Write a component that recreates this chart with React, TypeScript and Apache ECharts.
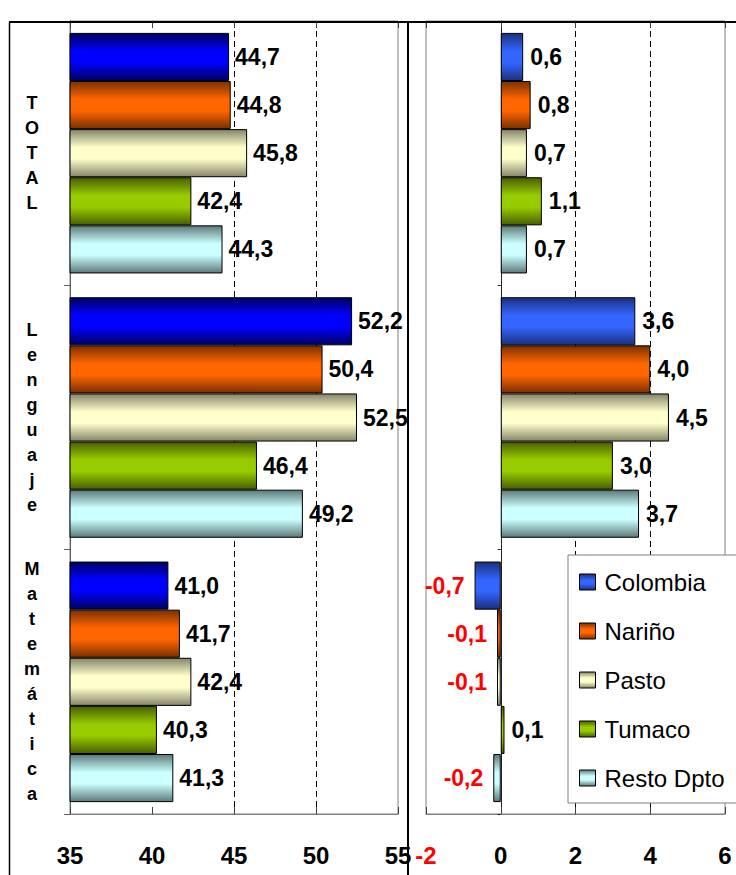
import React, { useEffect, useRef } from "react";
import * as echarts from "echarts";

const categories = ["TOTAL", "Lenguaje", "Matemática"];
const seriesNames = ["Colombia", "Nariño", "Pasto", "Tumaco", "Resto Dpto"];

// Left panel: scores
const scoreColombia = [44.7, 52.2, 41.0];
const scoreNarino = [44.8, 50.4, 41.7];
const scorePasto = [45.8, 52.5, 42.4];
const scoreTumaco = [42.4, 46.4, 40.3];
const scoreResto = [44.3, 49.2, 41.3];

// Right panel: differences
const diffColombia = [0.6, 3.6, -0.7];
const diffNarino = [0.8, 4.0, -0.1];
const diffPasto = [0.7, 4.5, -0.1];
const diffTumaco = [1.1, 3.0, 0.1];
const diffResto = [0.7, 3.7, -0.2];

const leftTicks = [35, 40, 45, 50, 55];
const rightTicks = [-2, 0, 2, 4, 6];

const leftColors = [
  ["#000060", "#0000ff"],
  ["#7a3000", "#ff6600"],
  ["#85856a", "#ffffcc"],
  ["#485f00", "#99cc00"],
  ["#5c7a7a", "#ccffff"],
];
const rightColors = [
  ["#1c2f80", "#3366ff"],
  ["#7a3000", "#ff6600"],
  ["#85856a", "#ffffcc"],
  ["#485f00", "#99cc00"],
  ["#5c7a7a", "#ccffff"],
];

const FONT = "'Liberation Sans', Arial, sans-serif";

function grad(c: string[]) {
  return new echarts.graphic.LinearGradient(0, 0, 0, 1, [
    { offset: 0, color: c[0] },
    { offset: 0.38, color: c[1] },
    { offset: 0.62, color: c[1] },
    { offset: 1, color: c[0] },
  ]);
}

const fmt = (v: number) => v.toFixed(1).replace(".", ",");

export default function App() {
  const ref = useRef<HTMLDivElement>(null);
  useEffect(() => {
    document.body.style.margin = "0";
    const chart = echarts.init(ref.current!, undefined, { renderer: "svg" });
    const leftData = [scoreColombia, scoreNarino, scorePasto, scoreTumaco, scoreResto];
    const rightData = [diffColombia, diffNarino, diffPasto, diffTumaco, diffResto];

    const valueLabel = {
      show: true,
      fontFamily: FONT,
      fontWeight: "bold" as const,
      fontSize: 23,
      color: "#000",
      formatter: (p: any) => fmt(p.value),
    };

    const leftSeries = seriesNames.map((name, i) => ({
      type: "bar",
      name,
      xAxisIndex: 0,
      yAxisIndex: 0,
      barGap: "0%",
      barCategoryGap: "9%",
      data: leftData[i],
      itemStyle: { color: grad(leftColors[i]), borderColor: "#000", borderWidth: 1 },
      label: { ...valueLabel, position: "right", distance: 6 },
    }));

    const rightSeries = seriesNames.map((name, i) => ({
      type: "bar",
      name,
      xAxisIndex: 2,
      yAxisIndex: 1,
      barGap: "0%",
      barCategoryGap: "9%",
      data: rightData[i].map((v) =>
        v < 0
          ? { value: v, label: { position: "left", distance: 10, color: "#ff0000" } }
          : { value: v }
      ),
      itemStyle: { color: grad(rightColors[i]), borderColor: "#000", borderWidth: 1 },
      label: { ...valueLabel, position: "right", distance: 7 },
    }));

    const splitColors = (n: number, dashedIdx: number[]) =>
      Array.from({ length: n }, (_, k) => (dashedIdx.includes(k) ? "#000" : "rgba(0,0,0,0)"));

    const axisLabelStyle = {
      fontFamily: FONT,
      fontWeight: "bold" as const,
      fontSize: 24,
      margin: 29,
    };

    chart.setOption({
      animation: false,
      grid: [
        { left: 70, top: 21, width: 328, height: 793, show: true, borderColor: "#808080", borderWidth: 1 },
        { left: 426, top: 21, width: 299, height: 793, show: true, borderColor: "#808080", borderWidth: 1 },
      ],
      xAxis: [
        {
          type: "value",
          gridIndex: 0,
          position: "bottom",
          min: leftTicks[0],
          max: leftTicks[leftTicks.length - 1],
          interval: leftTicks[1] - leftTicks[0],
          axisLine: { show: true, lineStyle: { color: "#808080" } },
          axisTick: { show: true, inside: true, length: 7, lineStyle: { color: "#404040" } },
          axisLabel: { ...axisLabelStyle, color: "#000" },
          splitLine: {
            show: true,
            lineStyle: { type: [6, 4], width: 1, color: splitColors(leftTicks.length, [2, 3]) },
          },
        },
        {
          type: "value",
          gridIndex: 0,
          position: "top",
          min: leftTicks[0],
          max: leftTicks[leftTicks.length - 1],
          interval: leftTicks[1] - leftTicks[0],
          axisLine: { show: false },
          axisTick: { show: true, inside: true, length: 7, lineStyle: { color: "#404040" } },
          axisLabel: { show: false },
          splitLine: { show: false },
        },
        {
          type: "value",
          gridIndex: 1,
          position: "bottom",
          min: rightTicks[0],
          max: rightTicks[rightTicks.length - 1],
          interval: rightTicks[1] - rightTicks[0],
          axisLine: { show: true, onZero: false, lineStyle: { color: "#808080" } },
          axisTick: { show: true, inside: true, length: 7, lineStyle: { color: "#404040" } },
          axisLabel: {
            ...axisLabelStyle,
            color: (v: any) => (Number(v) < 0 ? "#ff0000" : "#000"),
          },
          splitLine: {
            show: true,
            lineStyle: { type: [6, 4], width: 1, color: splitColors(rightTicks.length, [2, 3]) },
          },
        },
        {
          type: "value",
          gridIndex: 1,
          position: "top",
          min: rightTicks[0],
          max: rightTicks[rightTicks.length - 1],
          interval: rightTicks[1] - rightTicks[0],
          axisLine: { show: false, onZero: false },
          axisTick: { show: true, inside: true, length: 7, lineStyle: { color: "#404040" } },
          axisLabel: { show: false },
          splitLine: { show: false },
        },
      ],
      yAxis: [
        {
          type: "category",
          gridIndex: 0,
          inverse: true,
          data: categories,
          axisLine: { show: true, lineStyle: { color: "#606060" } },
          axisTick: { show: true, length: 6, lineStyle: { color: "#606060" } },
          axisLabel: {
            interval: 0,
            margin: 38,
            align: "center",
            fontFamily: FONT,
            fontWeight: "bold",
            fontSize: 18,
            lineHeight: 25,
            color: "#000",
            formatter: (v: string) => v.split("").join("\n"),
          },
          splitLine: { show: false },
        },
        {
          type: "category",
          gridIndex: 1,
          inverse: true,
          data: categories,
          axisLine: { show: true, onZero: true, lineStyle: { color: "#202020" } },
          axisTick: { show: true, length: 3, lineStyle: { color: "#202020" } },
          axisLabel: { show: false },
          splitLine: { show: false },
        },
      ],
      legend: {
        orient: "vertical",
        left: 568,
        top: 555,
        padding: [12, 20, 10, 11],
        backgroundColor: "#fff",
        borderColor: "#808080",
        borderWidth: 1,
        itemWidth: 16,
        itemHeight: 16,
        itemGap: 19,
        selectedMode: false,
        icon: "rect",
        textStyle: { fontFamily: FONT, fontSize: 24, lineHeight: 30, color: "#000", padding: [0, 0, 0, 4] },
        data: seriesNames.map((name, i) => ({
          name,
          itemStyle: { color: grad(rightColors[i]), borderColor: "#000", borderWidth: 1 },
        })),
      },
      graphic: [
        { type: "line", shape: { x1: 9, y1: 22, x2: 736, y2: 22 }, style: { stroke: "#000", lineWidth: 2 }, z: 100 },
        { type: "line", shape: { x1: 9.5, y1: 22, x2: 9.5, y2: 875 }, style: { stroke: "#000", lineWidth: 1.5 }, z: 100 },
        { type: "line", shape: { x1: 408, y1: 22, x2: 408, y2: 875 }, style: { stroke: "#000", lineWidth: 2 }, z: 100 },
      ],
      series: [...leftSeries, ...rightSeries],
    });
    return () => chart.dispose();
  }, []);
  return <div ref={ref} style={{ width: 736, height: 875 }} />;
}
